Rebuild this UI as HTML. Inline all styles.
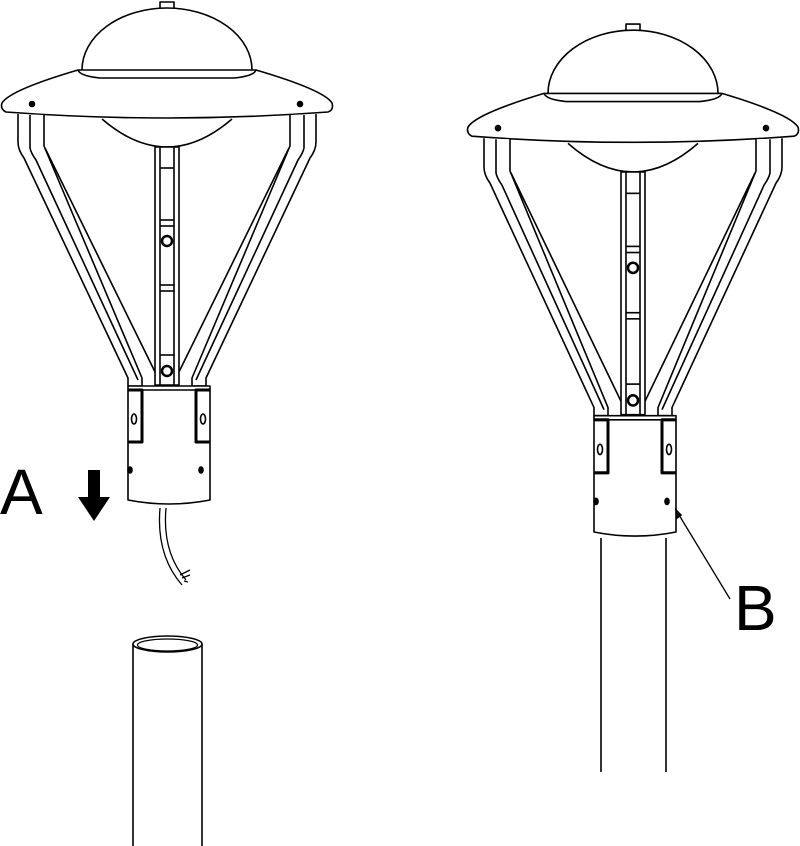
<!DOCTYPE html>
<html><head><style>html,body{margin:0;padding:0;background:#fff;}svg{display:block}</style></head>
<body>
<svg width="800" height="846" viewBox="0 0 800 846" xmlns="http://www.w3.org/2000/svg">
<defs>
<g id="lamp" fill="none" stroke="#000" stroke-width="1.6" stroke-linejoin="round">
  <rect x="160" y="2" width="14" height="7" fill="#fff"/>
  <path d="M82,70 A85,62 0 0 1 252,70" fill="#fff"/>
  <path d="M2,103 Q10,90 78,70 L256,70 Q324,90 332,103 Q334,110 328,112 Q167,124 6,112 Q0,109 2,103 Z" fill="#fff"/>
  <path d="M78,70 Q80,76 100,78 L234,78 Q254,76 256,70"/>
  <circle cx="32" cy="104" r="2.5" fill="#000"/>
  <circle cx="300" cy="104" r="2.5" fill="#000"/>
  <path d="M102,119 Q167,175 232,119" fill="#fff"/>
  <path d="M18,114 L18,142 Q18,150 24,158 L128,378 L128,386 L142,386 L142,378 L44,146 L44,115" fill="#fff"/>
  <path d="M30,115 L30,148 Q31,153 36,160 L138,380"/>
  <path d="M45,148 L158,378"/>
  <path d="M316,114 L316,142 Q316,150 310,158 L206,378 L206,386 L192,386 L192,378 L290,146 L290,115" fill="#fff"/>
  <path d="M304,115 L304,148 Q303,153 298,160 L196,380"/>
  <path d="M289,148 L176,378"/>
  <rect x="155" y="147" width="24" height="238" fill="#fff"/>
  <line x1="160" y1="147" x2="160" y2="385"/>
  <line x1="174" y1="147" x2="174" y2="385"/>
  <line x1="160" y1="168" x2="174" y2="168"/>
  <line x1="160" y1="220" x2="174" y2="220"/>
  <line x1="160" y1="226" x2="174" y2="226"/>
  <line x1="160" y1="285" x2="174" y2="285"/>
  <line x1="160" y1="291" x2="174" y2="291"/>
  <line x1="160" y1="355" x2="174" y2="355"/>
  <circle cx="167" cy="241" r="5" stroke-width="2.5"/>
  <circle cx="167" cy="371" r="5" stroke-width="2.5"/>
  <path d="M128,386 L210,386 L210,500 Q169,508 128,500 Z" fill="#fff"/>
  <line x1="128" y1="390" x2="210" y2="390"/>
  <path d="M128,390 L142,390 L142,442 L128,442" stroke-width="3"/>
  <path d="M210,390 L196,390 L196,442 L210,442" stroke-width="3"/>
  <ellipse cx="134" cy="419" rx="2.5" ry="5"/>
  <ellipse cx="203" cy="419" rx="2.5" ry="5"/>
  <ellipse cx="130" cy="470" rx="2" ry="3" fill="#000"/>
  <ellipse cx="201" cy="470" rx="2" ry="3" fill="#000"/>
</g>
</defs>
<use href="#lamp"/>
<g fill="none" stroke="#000" stroke-width="1.3">
  <path d="M160,508 Q156,555 182,585"/>
  <path d="M166,508 Q162,552 186,580"/>
  <path d="M180,575 L190,570 M182,578 L190,575 M184,581 L188,582"/>
</g>
<g fill="#fff" stroke="#000" stroke-width="1.6">
  <path d="M133,644 L133,846 M202,644 L202,846"/>
  <ellipse cx="167.5" cy="644" rx="34.5" ry="8"/>
  <ellipse cx="167.5" cy="645" rx="30" ry="6" fill="none" stroke-width="1.2"/>
</g>
<g transform="translate(466,22) scale(1,1.02)"><use href="#lamp"/></g>
<g fill="none" stroke="#000" stroke-width="1.6">
  <path d="M601,538 L601,772 M666,538 L666,772"/>
  <line x1="676" y1="510" x2="730" y2="599" stroke-width="1.3"/>
  <path d="M676,510 L677,518 L681,515 Z" fill="#000"/>
</g>
<text x="0" y="514" font-family="Liberation Sans, sans-serif" font-size="64" fill="#000">A</text>
<path d="M88,470 L100,470 L100,497 L110,497 L94,521 L78,497 L88,497 Z" fill="#000"/>
<text x="734" y="630" font-family="Liberation Sans, sans-serif" font-size="64" fill="#000">B</text>
</svg>
</body></html>
